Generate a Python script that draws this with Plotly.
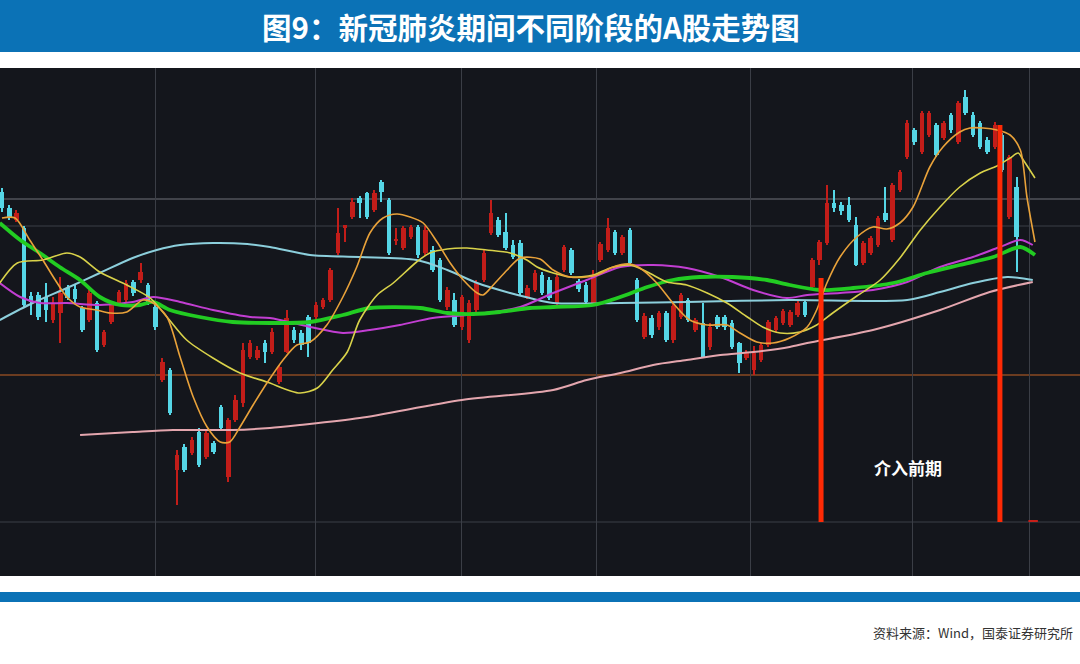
import plotly.graph_objects as go

# ---------------- data (price in chart points) ----------------
day = list(range(140))

open_ = [384, 368, 356, 348, 280, 281, 279, 256, 263, 288,
         287, 268, 256, 273, 231, 254, 273, 276, 294, 296,
         291, 269, 196, 206, 106, 129, 123, 144, 119, 133,
         169, 99, 156, 173, 219, 218, 233, 224, 194, 224,
         246, 243, 259, 259, 269, 276, 323, 348, 359, 378,
         383, 366, 394, 376, 335, 328, 339, 349, 323, 326,
         316, 269, 276, 249, 236, 266, 296, 343, 356, 344,
         331, 333, 279, 286, 301, 296, 273, 306, 326, 295,
         291, 273, 316, 326, 344, 323, 346, 296, 239, 258,
         249, 263, 236, 259, 276, 246, 253, 229, 259, 259,
         253, 233, 218, 206, 216, 231, 246, 253, 251, 261,
         274, 289, 316, 333, 373, 371, 371, 351, 313, 323,
         331, 363, 336, 386, 419, 446, 424, 441, 451, 438,
         461, 434, 479, 461, 453, 436, 429, 441, 359, 389]

high = [388, 371, 366, 350, 284, 284, 293, 279, 299, 291,
        291, 270, 286, 275, 246, 275, 286, 296, 296, 313,
        293, 272, 218, 208, 126, 132, 139, 148, 146, 135,
        171, 158, 181, 233, 236, 230, 236, 248, 211, 266,
        249, 246, 261, 274, 278, 308, 368, 351, 378, 380,
        384, 386, 396, 378, 348, 350, 351, 351, 350, 330,
        318, 289, 283, 281, 276, 296, 326, 376, 359, 363,
        336, 336, 291, 306, 304, 299, 302, 331, 328, 297,
        294, 306, 334, 358, 346, 341, 348, 298, 263, 261,
        265, 265, 273, 283, 278, 258, 273, 253, 261, 261,
        256, 234, 226, 230, 233, 256, 260, 267, 266, 275,
        276, 318, 336, 391, 386, 374, 379, 359, 335, 340,
        360, 389, 393, 406, 456, 448, 465, 465, 453, 455,
        463, 475, 486, 464, 455, 439, 454, 443, 421, 399]

low = [364, 356, 354, 269, 261, 256, 254, 253, 233, 276,
       273, 244, 254, 224, 229, 252, 271, 274, 280, 293,
       271, 246, 194, 161, 71, 104, 121, 109, 117, 122,
       146, 94, 154, 169, 217, 216, 213, 222, 192, 223,
       233, 226, 219, 256, 267, 274, 321, 334, 357, 358,
       357, 364, 374, 321, 331, 326, 337, 318, 320, 304,
       274, 266, 249, 246, 233, 264, 294, 341, 339, 326,
       317, 281, 277, 284, 281, 276, 271, 304, 301, 284,
       272, 271, 314, 324, 321, 321, 311, 254, 237, 238,
       246, 234, 233, 257, 254, 244, 218, 226, 247, 246,
       227, 203, 216, 201, 214, 229, 244, 251, 249, 259,
       259, 287, 311, 331, 364, 361, 354, 310, 311, 321,
       329, 354, 334, 384, 417, 431, 422, 439, 419, 436,
       443, 432, 461, 439, 427, 422, 427, 404, 357, 304]

close = [368, 359, 363, 271, 274, 259, 266, 273, 283, 278,
         277, 246, 283, 226, 244, 273, 284, 293, 283, 304,
         273, 249, 214, 163, 121, 106, 136, 111, 143, 124,
         148, 156, 176, 226, 233, 226, 224, 244, 209, 258,
         236, 231, 233, 271, 276, 306, 343, 351, 374, 373,
         359, 383, 384, 323, 337, 348, 349, 321, 346, 306,
         276, 286, 251, 279, 273, 293, 323, 363, 341, 328,
         319, 283, 288, 303, 283, 278, 299, 329, 303, 287,
         274, 301, 332, 348, 323, 339, 313, 256, 260, 241,
         263, 236, 270, 281, 256, 256, 219, 249, 249, 249,
         229, 213, 224, 223, 231, 254, 258, 265, 264, 273,
         261, 316, 334, 373, 368, 365, 356, 311, 333, 338,
         358, 356, 391, 404, 453, 434, 463, 463, 421, 453,
         446, 473, 463, 441, 429, 424, 451, 406, 419, 339]

# moving-average lines, read as (day, value) points
ma5_x = [0.0, 1.8, 3.8, 5.6, 7.3, 8.9, 10.7, 13.0, 14.8, 17.1, 19.3, 20.7, 22.6, 24.4, 26.2, 28.1,
         29.9, 31.2, 32.6, 34.4, 36.3, 38.5, 40.4, 42.2, 44.5, 46.7, 48.6, 50.4, 52.2, 54.1, 55.9,
         57.7, 59.6, 61.4, 63.2, 65.1, 65.9, 67.3, 69.2, 71.0, 73.7, 75.5, 77.8, 80.1, 81.5, 83.7,
         86.0, 87.4, 89.7, 91.9, 94.2, 96.6, 99.3, 101.1, 103.4, 105.6, 107.9, 110.3, 111.6, 113.0,
         114.8, 117.1, 119.3, 121.2, 123.0, 124.8, 127.1, 128.9, 131.2, 132.6, 134.4, 136.3, 138.1,
         139.5, 140.4, 141.5]
ma5_y = [358, 358, 336, 316, 296, 279, 269, 266, 263, 264, 276, 273, 259, 219, 179, 149,
         134, 134, 149, 171, 193, 216, 231, 234, 251, 279, 309, 343, 358, 362, 359,
         353, 334, 313, 296, 283, 281, 291, 306, 318, 317, 306, 299, 299, 301, 309,
         312, 308, 293, 273, 256, 251, 251, 243, 234, 233, 238, 249, 266, 293,
         319, 339, 349, 347, 353, 369, 409, 429, 444, 448, 448, 446, 441,
         426, 379, 334]

ma10_x = [-0.3, 2.1, 5.6, 8.9, 10.7, 13.4, 17.1, 20.3, 22.6, 25.3, 28.9, 32.6, 36.3, 40.8, 43.2,
          45.3, 47.3, 49.0, 51.4, 53.6, 56.8, 58.6, 61.0, 63.7, 66.4, 69.6, 71.9, 73.3, 75.5, 77.8,
          81.0, 83.3, 86.0, 88.4, 91.1, 93.8, 96.6, 99.3, 102.1, 104.2, 106.6, 109.3, 111.6, 113.8,
          117.1, 120.3, 123.0, 125.8, 128.5, 131.2, 134.0, 136.3, 138.1, 139.2, 139.9, 141.5]
ma10_y = [293, 313, 316, 323, 319, 304, 291, 278, 259, 236, 218, 203, 194, 183, 188,
          206, 224, 256, 281, 293, 314, 323, 327, 328, 326, 323, 316, 309, 303, 299,
          301, 308, 311, 304, 294, 291, 283, 273, 259, 249, 243, 244, 251, 263,
          280, 296, 318, 346, 369, 389, 403, 410, 418, 423, 416, 398]

ma60_x = [-0.3, 2.5, 5.2, 7.9, 10.7, 13.4, 16.2, 18.9, 20.7, 23.0, 27.1, 31.6, 36.7, 42.2, 46.7,
          50.4, 57.3, 61.0, 64.5, 68.2, 72.3, 75.5, 81.0, 84.7, 88.4, 91.9, 95.6, 100.1, 104.8,
          107.9, 112.1, 116.6, 122.1, 126.7, 131.2, 135.8, 139.5, 141.5]
ma60_y = [353, 336, 323, 309, 296, 279, 271, 271, 274, 266, 259, 254, 253, 254, 261,
          268, 268, 263, 262, 264, 268, 269, 271, 279, 289, 296, 299, 299, 296,
          291, 286, 288, 293, 303, 311, 319, 329, 321]

ma30_x = [-0.3, 2.5, 5.2, 8.9, 13.4, 17.9, 20.7, 24.4, 28.9, 34.0, 36.7, 42.2, 46.7, 50.4, 54.5,
          59.0, 63.7, 67.3, 71.0, 75.5, 80.1, 84.7, 89.2, 93.8, 98.4, 102.9, 107.5, 110.3, 114.8,
          119.3, 124.0, 128.5, 133.0, 136.7, 139.5, 141.2]
ma30_y = [293, 279, 273, 273, 271, 274, 279, 274, 266, 259, 258, 249, 243, 246, 251,
          258, 261, 264, 269, 283, 296, 309, 311, 308, 299, 286, 278, 281, 283,
          286, 294, 309, 319, 329, 336, 331]

ma120_x = [-0.3, 4.2, 8.9, 13.4, 17.9, 21.2, 24.4, 28.9, 33.6, 36.7, 42.2, 49.0, 56.8, 61.0, 65.1,
           69.6, 72.3, 75.5, 84.7, 93.8, 107.9, 124.0, 128.5, 133.0, 137.7, 141.2]
ma120_y = [256, 273, 288, 303, 318, 326, 331, 333, 332, 329, 321, 319, 316, 306, 293,
           283, 278, 273, 273, 274, 276, 276, 284, 293, 299, 296]

ma250_x = [10.7, 17.9, 23.4, 31.6, 36.7, 40.8, 49.0, 63.0, 75.5, 80.1, 84.7, 89.2, 93.8, 98.4,
           102.9, 107.9, 110.3, 119.3, 128.5, 135.3, 141.2]
ma250_y = [141, 144, 146, 146, 148, 151, 158, 176, 186, 196, 203, 211, 216, 221,
           224, 229, 233, 246, 266, 284, 294]

# month separators and reference levels
month_marks = [21.0, 43.0, 63.0, 81.5, 102.5, 124.7, 140.7]
grid_levels = [377, 350, 54]
base_level = 201

# event markers (red vertical lines), small tick mark and label
event_day = [112.2, 136.7]
event_top = [298, 451]
event_bottom = [54, 54]
tick_days = [140.6, 141.9]
tick_values = [55, 55]
label_day = 124.1
label_value = 109
label_text = "介入前期"

title_text = "图9：新冠肺炎期间不同阶段的A股走势图"
source_text = "资料来源：Wind，国泰证券研究所"

# ---------------- styling ----------------
UP = "#c21d19"
DOWN = "#55d6e6"
BG = "#14161c"
BLUE = "#0b72b6"

colors = [UP if c >= o else DOWN for o, c in zip(open_, close)]
body_base = [min(o, c) for o, c in zip(open_, close)]
body_h = [max(abs(c - o), 1.5) for o, c in zip(open_, close)]
wick_h = [h - l for h, l in zip(high, low)]

fig = go.Figure()

fig.add_trace(go.Bar(x=day, y=wick_h, base=low, width=0.18,
                     marker=dict(color=colors, line=dict(width=0)), hoverinfo="skip"))
fig.add_trace(go.Bar(x=day, y=body_h, base=body_base, width=0.62,
                     marker=dict(color=colors, line=dict(width=0)), hoverinfo="skip"))

def ma(x, y, color, w):
    fig.add_trace(go.Scatter(x=x, y=y, mode="lines",
                             line=dict(color=color, width=w, shape="spline", smoothing=0.8),
                             hoverinfo="skip"))

ma(ma250_x, ma250_y, "#e4a6ae", 2)
ma(ma120_x, ma120_y, "#8ccfdc", 2)
ma(ma30_x, ma30_y, "#c23ed2", 2)
ma(ma60_x, ma60_y, "#22cc22", 3.8)
ma(ma10_x, ma10_y, "#d9d24a", 1.6)
ma(ma5_x, ma5_y, "#e9a23a", 1.6)

# red event lines
for d, t, b in zip(event_day, event_top, event_bottom):
    fig.add_trace(go.Scatter(x=[d, d], y=[b, t], mode="lines",
                             line=dict(color="#ff2a05", width=5), hoverinfo="skip"))
fig.add_trace(go.Scatter(x=tick_days, y=tick_values, mode="lines",
                         line=dict(color="#c8201a", width=2), hoverinfo="skip"))

shapes = []
for lv in grid_levels:
    shapes.append(dict(type="line", xref="paper", x0=0, x1=1, yref="y", y0=lv, y1=lv,
                       line=dict(color="#6e7078" if lv == 377 else "#3b3e46", width=1.2),
                       layer="below"))
shapes.append(dict(type="line", xref="paper", x0=0, x1=1, yref="y", y0=base_level, y1=base_level,
                   line=dict(color="#8a4a22", width=1.5), layer="below"))
# title banner and bottom blue bar
shapes.append(dict(type="rect", xref="paper", yref="paper", x0=0, x1=1, y0=1.0315, y1=1.14,
                   fillcolor=BLUE, line=dict(width=0)))
shapes.append(dict(type="rect", xref="paper", yref="paper", x0=0, x1=1, y0=-0.0512, y1=-0.0315,
                   fillcolor=BLUE, line=dict(width=0)))

annotations = [
    dict(text=title_text, xref="paper", yref="paper", x=0.4915, y=1.083, showarrow=False,
         xanchor="center", yanchor="middle",
         font=dict(family="Noto Sans CJK SC", size=29.5, color="white", weight="bold")),
    dict(text=source_text, xref="paper", yref="paper", x=0.9955, y=-0.1122, showarrow=False,
         xanchor="right", yanchor="middle",
         font=dict(family="Noto Sans CJK SC", size=13, color="#333333")),
    dict(text=label_text, x=label_day, y=label_value, xref="x", yref="y", showarrow=False,
         xanchor="center", yanchor="middle",
         font=dict(family="Noto Sans CJK SC", size=17, color="white", weight="bold")),
]

fig.update_layout(
    width=1080, height=664,
    margin=dict(l=0, r=0, t=68, b=88, pad=0),
    paper_bgcolor="white", plot_bgcolor=BG,
    barmode="overlay", bargap=0,
    showlegend=False,
    shapes=shapes, annotations=annotations,
    xaxis=dict(range=[-0.27, 147.67], showticklabels=False, tickvals=month_marks,
               showgrid=True, gridcolor="#3b3e46", gridwidth=1.2, zeroline=False,
               showline=False, fixedrange=True),
    yaxis=dict(range=[0, 508], showticklabels=False, showgrid=False, zeroline=False,
               showline=False, fixedrange=True),
)

fig.write_html("out.html", config={"displayModeBar": False},
               post_script="document.body.style.margin='0';")
